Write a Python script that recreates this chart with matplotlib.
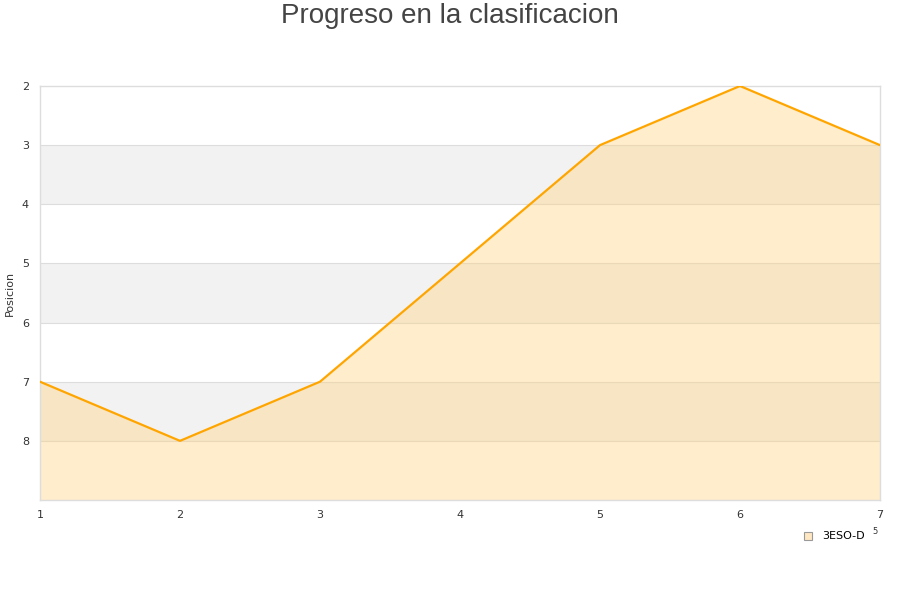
import matplotlib.pyplot as plt
from matplotlib.patches import Rectangle

# -------- DATA --------
jornadas = [1, 2, 3, 4, 5, 6, 7]
posicion = [7, 8, 7, 5, 3, 2, 3]
equipo = "3ESO-D"
y_ticks = [2, 3, 4, 5, 6, 7, 8]

# -------- FIGURE --------
fig = plt.figure(figsize=(9, 6), dpi=100)
ax = fig.add_axes([40 / 900, 1 - 500 / 600, 840 / 900, 414 / 600])

ax.set_xlim(1, 7)
ax.set_ylim(9, 2)

# alternating bands
for lo in (3, 5, 7):
    ax.axhspan(lo, lo + 1, color="#f2f2f2", zorder=0, lw=0)
for t in range(3, 9):
    ax.axhline(t, color="#dddddd", lw=0.8, zorder=1)

ax.fill_between(jornadas, posicion, 9, color="#ffd27f", alpha=0.4, lw=0, zorder=2)
ax.plot(jornadas, posicion, color="#ffa500", lw=1.6, zorder=3)

ax.set_yticks(y_ticks)
ax.set_xticks(jornadas)
ax.tick_params(length=0, labelsize=8, colors="#333333")
ax.tick_params(axis="y", pad=8)
ax.tick_params(axis="x", pad=7)
for s in ax.spines.values():
    s.set_color("#dddddd")
    s.set_linewidth(1)

ax.set_ylabel("Posicion", fontsize=8, color="#333333")
ax.yaxis.set_label_coords(-25 / 840, 0.5)
fig.text(0.5, 1 - 16 / 600, "Progreso en la clasificacion", fontsize=20,
         color="#444444", ha="center", va="center", family="Liberation Sans")

# legend
fig.patches.append(Rectangle((804 / 900, 1 - 540 / 600), 8 / 900, 8 / 600,
                             transform=fig.transFigure, facecolor="#ffe7c2",
                             edgecolor="#999999", lw=0.8))
fig.text(822 / 900, 1 - 536 / 600, equipo, fontsize=8, va="center", color="#000000")
fig.text(872 / 900, 1 - 532 / 600, "5", fontsize=6, va="center", color="#333333")

fig.savefig("out.png", dpi=100)
